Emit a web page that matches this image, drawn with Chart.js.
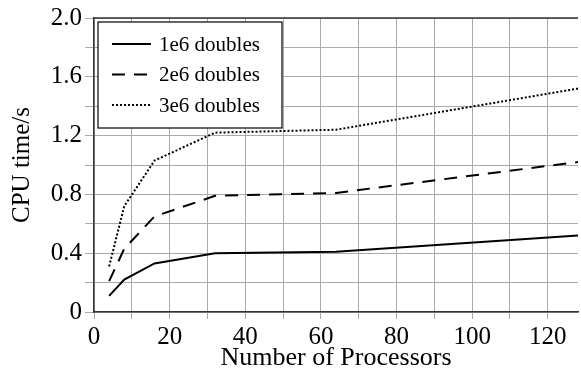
<!DOCTYPE html>
<html>
<head>
<meta charset="utf-8">
<script src="https://cdn.jsdelivr.net/npm/chart.js@4/dist/chart.umd.min.js"></script>
<style>
  html, body { margin: 0; padding: 0; background: #fff; }
  #wrap { width: 581px; height: 373px; }
</style>
</head>
<body>
<div id="wrap"><canvas id="cpuChart" width="581" height="373"></canvas></div>
<script>
// Data
const processors = [4, 8, 16, 32, 64, 128];
const doubles1e6 = [0.11, 0.22, 0.33, 0.40, 0.41, 0.52];
const doubles2e6 = [0.21, 0.43, 0.65, 0.79, 0.81, 1.02];
const doubles3e6 = [0.31, 0.72, 1.03, 1.22, 1.24, 1.52];
const seriesLabels = ['1e6 doubles', '2e6 doubles', '3e6 doubles'];
const xTicks = [0, 10, 20, 30, 40, 50, 60, 70, 80, 90, 100, 110, 120];

const serif = "'Liberation Serif', 'Times New Roman', serif";

function points(ys) {
    return processors.map((x, i) => ({ x: x, y: ys[i] }));
}

// Legend drawn inside the plot area, top left
const insideLegend = {
    id: 'insideLegend',
    afterDraw(chart) {
        const ctx = chart.ctx;
        const area = chart.chartArea;
        const left = area.left + 4, top = area.top + 4;
        const w = 184, h = 106;
        ctx.save();
        ctx.fillStyle = '#fff';
        ctx.fillRect(left, top, w, h);
        ctx.strokeStyle = '#000';
        ctx.lineWidth = 1.2;
        ctx.strokeRect(left, top, w, h);
        chart.data.datasets.forEach((ds, i) => {
            const y = top + 22 + i * 30.5;
            ctx.beginPath();
            ctx.setLineDash(ds.borderDash || []);
            ctx.lineWidth = ds.borderWidth;
            ctx.strokeStyle = ds.borderColor;
            ctx.moveTo(left + 14, y);
            ctx.lineTo(left + 53, y);
            ctx.stroke();
            ctx.setLineDash([]);
            ctx.fillStyle = '#000';
            ctx.font = '21px ' + serif;
            ctx.textBaseline = 'middle';
            ctx.fillText(ds.label, left + 61, y + 1);
        });
        // top frame line
        ctx.beginPath();
        ctx.strokeStyle = '#333';
        ctx.lineWidth = 1.5;
        ctx.moveTo(area.left, area.top);
        ctx.lineTo(area.right, area.top);
        ctx.stroke();
        ctx.restore();
    }
};

new Chart(document.getElementById('cpuChart').getContext('2d'), {
    type: 'line',
    data: {
        datasets: [{
            label: seriesLabels[0],
            data: points(doubles1e6),
            borderColor: '#000',
            borderWidth: 2,
            pointRadius: 0,
            tension: 0
        }, {
            label: seriesLabels[1],
            data: points(doubles2e6),
            borderColor: '#000',
            borderWidth: 2,
            borderDash: [13, 9],
            pointRadius: 0,
            tension: 0
        }, {
            label: seriesLabels[2],
            data: points(doubles3e6),
            borderColor: '#000',
            borderWidth: 2,
            borderDash: [2, 2],
            pointRadius: 0,
            tension: 0
        }]
    },
    options: {
        responsive: false,
        animation: false,
        layout: { padding: { top: 16, right: 3, left: 0, bottom: 0 } },
        plugins: {
            legend: { display: false },
            tooltip: { enabled: false }
        },
        scales: {
            x: {
                type: 'linear',
                min: 0,
                max: 128,
                afterBuildTicks: (axis) => { axis.ticks = xTicks.map(v => ({ value: v })); },
                afterFit: (axis) => { axis.height = 61; },
                grid: { color: '#aaa', lineWidth: 1, tickLength: 7 },
                border: { color: '#333', width: 1.5 },
                ticks: {
                    autoSkip: false,
                    maxRotation: 0,
                    padding: 3,
                    color: '#000',
                    font: { family: serif, size: 25 },
                    callback: (v) => (v % 20 === 0 ? String(v) : '')
                },
                title: {
                    display: true,
                    text: 'Number of Processors',
                    color: '#000',
                    font: { family: serif, size: 26, lineHeight: 1 },
                    padding: { top: 0, bottom: 2 }
                }
            },
            y: {
                min: 0,
                max: 2.0,
                afterFit: (axis) => { axis.width = 94; },
                grid: { color: '#aaa', lineWidth: 1, tickLength: 9 },
                border: { color: '#333', width: 1.5 },
                ticks: {
                    stepSize: 0.2,
                    autoSkip: false,
                    padding: 3,
                    color: '#000',
                    font: { family: serif, size: 25 },
                    callback: (v) => {
                        const k = Math.round(v * 10);
                        if (k % 4 !== 0) return '';
                        return k === 0 ? '0' : (k / 10).toFixed(1);
                    }
                },
                title: {
                    display: true,
                    text: 'CPU time/s',
                    color: '#000',
                    font: { family: serif, size: 25, lineHeight: 1 },
                    padding: { top: 10, bottom: 0 }
                }
            }
        }
    },
    plugins: [insideLegend]
});
</script>
</body>
</html>
